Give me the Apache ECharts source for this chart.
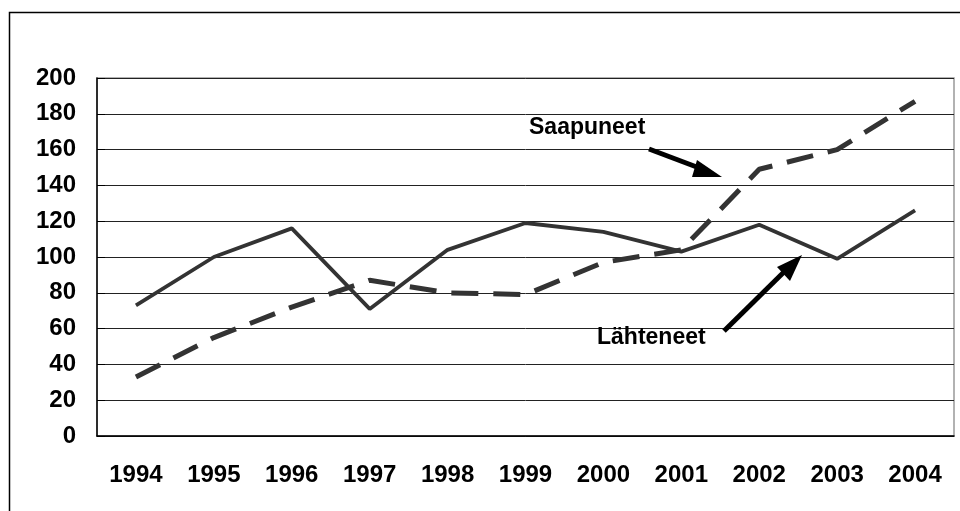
<!DOCTYPE html>
<html>
<head>
<meta charset="utf-8">
<script src="https://cdn.jsdelivr.net/npm/echarts@6/dist/echarts.min.js"></script>
<style>
html,body{margin:0;padding:0;background:#fff;}
#c{width:960px;height:511px;}
</style>
</head>
<body>
<div id="c"></div>
<script>
var years = ['1994','1995','1996','1997','1998','1999','2000','2001','2002','2003','2004'];
var lahteneet = [73, 100, 116, 71, 104, 119, 114, 103, 118, 99, 126];
var saapuneet = [33, 55, 72, 87, 80, 79, 97, 104, 149, 160, 187];
var yTicks = {min: 0, max: 200, interval: 20};
var labelSaapuneet = 'Saapuneet';
var labelLahteneet = 'Lähteneet';

var chart = echarts.init(document.getElementById('c'), null, {renderer: 'canvas'});
var FONT = '"Liberation Sans", Arial, sans-serif';
chart.setOption({
  backgroundColor: '#fff',
  animation: false,
  grid: {left: 97, right: 6, top: 78, bottom: 75, show: true, borderColor: '#999', borderWidth: 1.5, backgroundColor: 'transparent'},
  xAxis: {
    type: 'category',
    data: years,
    boundaryGap: true,
    axisLine: {lineStyle: {color: '#000', width: 1.5}},
    axisTick: {inside: true, length: 8, lineStyle: {color: '#000', width: 1}},
    axisLabel: {color: '#000', fontFamily: FONT, fontWeight: 'bold', fontSize: 24, margin: 27},
    splitLine: {show: false}
  },
  yAxis: {
    type: 'value',
    min: yTicks.min, max: yTicks.max, interval: yTicks.interval,
    axisLine: {show: true, lineStyle: {color: '#000', width: 1.5}},
    axisTick: {show: true, inside: true, length: 8, lineStyle: {color: '#000', width: 1}},
    axisLabel: {color: '#000', fontFamily: FONT, fontWeight: 'bold', fontSize: 24, margin: 21},
    splitLine: {show: true, lineStyle: {color: '#222', width: 1}}
  },
  series: [
    {
      name: labelLahteneet, type: 'line', data: lahteneet, showSymbol: false, symbol: 'none',
      lineStyle: {color: '#333', width: 3.8}
    },
    {
      name: labelSaapuneet, type: 'line', data: saapuneet, showSymbol: false, symbol: 'none',
      lineStyle: {color: '#333', width: 5, type: [27, 15], cap: 'butt'}
    }
  ],
  graphic: [
    {type: 'rect', shape: {x: 9.5, y: 12.5, width: 1000, height: 600}, style: {fill: 'none', stroke: '#000', lineWidth: 1.5}, silent: true, z: 0},
    {type: 'text', x: 529, y: 128, style: {text: labelSaapuneet, fill: '#000', font: 'bold 23px ' + FONT, textVerticalAlign: 'middle', textAlign: 'left'}, z: 10},
    {type: 'text', x: 597, y: 338, style: {text: labelLahteneet, fill: '#000', font: 'bold 23px ' + FONT, textVerticalAlign: 'middle', textAlign: 'left'}, z: 10},
    {type: 'line', shape: {x1: 649, y1: 149, x2: 702, y2: 169}, style: {stroke: '#000', lineWidth: 5}, z: 10},
    {type: 'polygon', shape: {points: [[722, 177], [697, 160], [692, 177]]}, style: {fill: '#000'}, z: 10},
    {type: 'line', shape: {x1: 724, y1: 331, x2: 786, y2: 270}, style: {stroke: '#000', lineWidth: 5}, z: 10},
    {type: 'polygon', shape: {points: [[802, 255], [777, 267], [790, 281]]}, style: {fill: '#000'}, z: 10}
  ]
});
</script>
</body>
</html>
